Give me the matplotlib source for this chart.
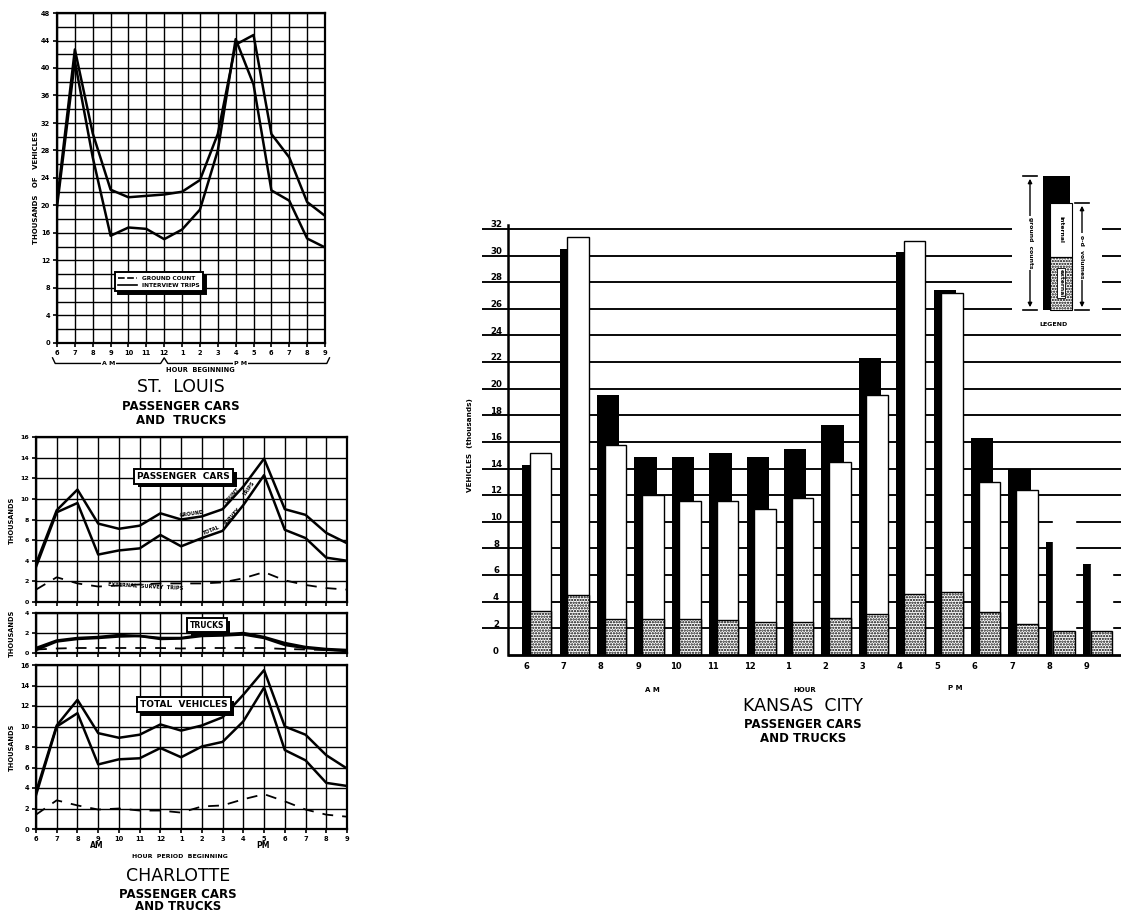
import matplotlib
matplotlib.use('Agg')
import matplotlib.pyplot as plt
import numpy as np
from matplotlib.patches import Rectangle
from matplotlib.lines import Line2D
import matplotlib.transforms as mtransforms
import matplotlib.patheffects as pe

W, H = 1121, 915
plt.rcParams['font.family'] = ['DejaVu Sans']
plt.rcParams['hatch.linewidth'] = 1.1

# ---------------- data ----------------
hour_labels = ['6', '7', '8', '9', '10', '11', '12', '1', '2', '3', '4', '5', '6', '7', '8', '9']
hours = np.arange(len(hour_labels))

# St. Louis (thousands of vehicles)
stl_ground = [20.5, 42.7, 30.5, 22.3, 21.2, 21.4, 21.6, 22.0, 23.7, 30.4, 43.4, 44.8, 30.4, 27.0, 20.5, 18.5]
stl_interview = [19.8, 41.0, 27.0, 15.6, 16.8, 16.6, 15.1, 16.5, 19.4, 28.0, 44.2, 37.6, 22.2, 20.7, 15.2, 13.9]

# Charlotte (thousands)
cars_ground = [3.7, 8.9, 10.9, 7.6, 7.1, 7.4, 8.6, 8.0, 8.3, 9.0, 11.2, 13.9, 9.0, 8.45, 6.7, 5.7]
cars_survey = [3.4, 8.7, 9.6, 4.6, 5.0, 5.2, 6.5, 5.4, 6.2, 6.9, 9.4, 12.3, 7.0, 6.2, 4.3, 4.0]
cars_external = [1.2, 2.4, 1.8, 1.5, 1.6, 1.7, 1.8, 1.8, 1.8, 1.9, 2.3, 2.9, 2.1, 1.65, 1.35, 1.2]

trucks_ground = [0.5, 1.25, 1.5, 1.6, 1.8, 1.7, 1.5, 1.5, 1.8, 1.85, 2.0, 1.6, 1.0, 0.6, 0.4, 0.3]
trucks_survey = [0.3, 1.15, 1.4, 1.5, 1.65, 1.7, 1.4, 1.45, 1.7, 1.75, 1.85, 1.5, 0.8, 0.5, 0.33, 0.2]
trucks_external = [0.35, 0.45, 0.5, 0.5, 0.5, 0.5, 0.5, 0.45, 0.5, 0.5, 0.5, 0.5, 0.4, 0.35, 0.3, 0.25]

total_ground = [3.6, 10.1, 12.6, 9.35, 8.9, 9.2, 10.2, 9.6, 10.1, 10.9, 13.1, 15.5, 10.0, 9.2, 7.2, 5.9]
total_survey = [3.3, 10.0, 11.3, 6.3, 6.8, 6.9, 7.9, 7.0, 8.05, 8.5, 10.5, 13.8, 7.7, 6.7, 4.5, 4.2]
total_external = [1.4, 2.8, 2.3, 1.9, 2.0, 1.8, 1.8, 1.6, 2.2, 2.3, 2.9, 3.4, 2.7, 1.9, 1.4, 1.2]

# Kansas City (thousands of vehicles)
kc_ground = [14.3, 30.5, 19.5, 14.9, 14.9, 15.2, 14.9, 15.5, 17.3, 22.3, 30.3, 27.4, 16.3, 14.0, 8.5, 6.8]
kc_od = [15.2, 31.4, 15.8, 12.0, 11.6, 11.6, 11.0, 11.8, 14.5, 19.5, 31.1, 27.2, 13.0, 12.4, 11.8, 6.8]
kc_external = [3.3, 4.5, 2.7, 2.7, 2.7, 2.6, 2.5, 2.5, 2.8, 3.1, 4.6, 4.7, 3.2, 2.35, 1.8, 1.8]
kc_od_outlined = [True] * 14 + [False] * 2

# ---------------- helpers ----------------
fig = plt.figure(figsize=(W / 100, H / 100), dpi=100)


def px_axes(x0, y0, x1, y1, **kw):
    return fig.add_axes([x0 / W, 1 - y1 / H, (x1 - x0) / W, (y1 - y0) / H], **kw)


def ftext(xp, yp, s, **kw):
    return fig.text(xp / W, 1 - yp / H, s, **kw)


def grid_axes(ax, ymax, ystep, lstep, show_x=True, lsize=5):
    ax.set_xlim(0, 15)
    ax.set_ylim(0, ymax)
    ax.set_xticks(hours)
    ax.set_yticks(np.arange(0, ymax + 0.01, lstep))
    ax.set_yticks(np.arange(0, ymax + 0.01, ystep), minor=True)
    ax.grid(True, which='both', color='black', lw=1.0, zorder=1)
    ax.set_axisbelow(True)
    for s in ax.spines.values():
        s.set_linewidth(1.6)
    ax.tick_params(which='both', direction='out', length=3, width=1.2, labelsize=lsize, pad=2)
    ax.tick_params(which='minor', length=0)
    if show_x:
        ax.set_xticklabels(hour_labels, fontweight='bold')
    else:
        ax.set_xticklabels([])
    for lb in ax.get_yticklabels():
        lb.set_fontweight('bold')


def boxed(ax, x, y, s, size=6.5):
    t = ax.text(x, y, s, transform=ax.transAxes, fontsize=size, fontweight='bold', ha='center', va='center',
                bbox=dict(boxstyle='square,pad=0.35', fc='white', ec='black', lw=1.4), zorder=6)
    t.get_bbox_patch().set_path_effects([
        pe.SimplePatchShadow(offset=(2.5, -2.5), shadow_rgbFace='black', alpha=1.0), pe.Normal()])


# ---------------- St. Louis ----------------
ax1 = px_axes(57, 13, 325, 343)
grid_axes(ax1, 48, 2, 4, lsize=4.8)
ax1.plot(hours, stl_ground, color='black', lw=1.8, zorder=3)
ax1.plot(hours, stl_interview, color='black', lw=1.8, zorder=3)
handles = [Line2D([], [], color='black', lw=1.2, ls=(0, (4, 1.5))),
           Line2D([], [], color='black', lw=1.2)]
leg = ax1.legend(handles, ['GROUND COUNT', 'INTERVIEW TRIPS'], loc='lower left',
                 bbox_to_anchor=(0.205, 0.148), prop=dict(size=4.2, weight='bold'),
                 frameon=True, fancybox=False, handlelength=3.2, borderpad=0.6,
                 labelspacing=0.35, shadow=dict(color='black', alpha=1.0))
leg.get_frame().set_edgecolor('black')
leg.get_frame().set_linewidth(1.4)
leg.set_zorder(6)

# brace under x-axis
bt = mtransforms.blended_transform_factory(ax1.transData, ax1.transAxes)
ax1.plot([-0.25, -0.1, 5.8, 6.0, 6.2, 15.1, 15.25], [-0.045, -0.062, -0.062, -0.045, -0.062, -0.062, -0.045],
         color='black', lw=1.0, transform=bt, clip_on=False)
ax1.text(2.9, -0.062, 'A M', transform=bt, fontsize=4.5, fontweight='bold', ha='center', va='center',
         bbox=dict(fc='white', ec='none', pad=0.6))
ax1.text(10.25, -0.062, 'P M', transform=bt, fontsize=4.5, fontweight='bold', ha='center', va='center',
         bbox=dict(fc='white', ec='none', pad=0.6))
ftext(200, 370, 'HOUR  BEGINNING', fontsize=4.8, fontweight='bold', ha='center', va='center')
ftext(36, 188, 'THOUSANDS   OF   VEHICLES', fontsize=5, fontweight='bold', rotation=90, ha='center', va='center')
ftext(181, 387, 'ST.  LOUIS', fontsize=12.5, ha='center', va='center')
ftext(181, 407, 'PASSENGER CARS', fontsize=8.5, fontweight='bold', ha='center', va='center')
ftext(181, 420, 'AND  TRUCKS', fontsize=8.5, fontweight='bold', ha='center', va='center')

# ---------------- Charlotte ----------------
axc1 = px_axes(36, 437, 347, 602)
grid_axes(axc1, 16, 2, 2, show_x=False, lsize=4.5)
axc1.plot(hours, cars_ground, color='black', lw=1.8, zorder=3)
axc1.plot(hours, cars_survey, color='black', lw=1.8, zorder=3)
axc1.plot(hours, cars_external, color='black', lw=1.3, ls=(0, (6, 5)), zorder=3)
boxed(axc1, 0.475, 0.762, 'PASSENGER  CARS')
axc1.text(7.5, 8.55, 'GROUND', fontsize=3.6, fontweight='bold', rotation=8, ha='center', va='center', zorder=4)
axc1.text(9.45, 10.35, 'COUNT', fontsize=3.6, fontweight='bold', rotation=48, ha='center', va='center', zorder=4)
axc1.text(8.45, 6.95, 'TOTAL', fontsize=3.6, fontweight='bold', rotation=22, ha='center', va='center', zorder=4)
axc1.text(9.45, 8.3, 'SURVEY', fontsize=3.6, fontweight='bold', rotation=48, ha='center', va='center', zorder=4)
axc1.text(10.3, 11.0, 'TRIPS', fontsize=3.6, fontweight='bold', rotation=55, ha='center', va='center', zorder=4)
axc1.text(5.3, 1.55, 'EXTERNAL  SURVEY  TRIPS', fontsize=3.6, fontweight='bold', rotation=-3,
          ha='center', va='center', zorder=4)

axc2 = px_axes(36, 613, 347, 653)
grid_axes(axc2, 4, 2, 2, show_x=False, lsize=4.5)
axc2.plot(hours, trucks_ground, color='black', lw=1.8, zorder=3)
axc2.plot(hours, trucks_survey, color='black', lw=1.8, zorder=3)
axc2.plot(hours, trucks_external, color='black', lw=1.3, ls=(0, (6, 5)), zorder=3)
boxed(axc2, 0.55, 0.7, 'TRUCKS', size=5.5)

axc3 = px_axes(36, 665, 347, 829)
grid_axes(axc3, 16, 2, 2, show_x=True, lsize=4.8)
axc3.plot(hours, total_ground, color='black', lw=1.8, zorder=3)
axc3.plot(hours, total_survey, color='black', lw=1.8, zorder=3)
axc3.plot(hours, total_external, color='black', lw=1.3, ls=(0, (6, 5)), zorder=3)
boxed(axc3, 0.475, 0.758, 'TOTAL  VEHICLES')

for yc in (520, 633, 747):
    ftext(12, yc, 'THOUSANDS', fontsize=4.8, fontweight='bold', rotation=90, ha='center', va='center')
ftext(97, 846, 'AM', fontsize=5.5, fontweight='bold', ha='center', va='center')
ftext(263, 846, 'PM', fontsize=5.5, fontweight='bold', ha='center', va='center')
ftext(180, 857, 'HOUR  PERIOD  BEGINNING', fontsize=4.5, fontweight='bold', ha='center', va='center')
ftext(178, 876, 'CHARLOTTE', fontsize=12.5, ha='center', va='center')
ftext(178, 894, 'PASSENGER CARS', fontsize=8.5, fontweight='bold', ha='center', va='center')
ftext(178, 907, 'AND TRUCKS', fontsize=8.5, fontweight='bold', ha='center', va='center')

# ---------------- Kansas City ----------------
axk = px_axes(482, 225, 1121, 655)
axk.set_xlim(-1.176, 15.91)
axk.set_ylim(0, 32.3)
axk.axis('off')
yaxis_x = -0.48
for v in range(2, 33, 2):
    axk.plot([-1.176, 15.91], [v, v], color='black', lw=1.35, zorder=1, solid_capstyle='butt')
    axk.text(-0.80, v + 0.32, str(v), fontsize=6.2, fontweight='bold', ha='center', va='center', zorder=1)
axk.text(-0.80, 0.3, '0', fontsize=6.2, fontweight='bold', ha='center', va='center')
axk.plot([yaxis_x, 15.91], [0, 0], color='black', lw=2.0, zorder=6, clip_on=False, solid_capstyle='butt')
axk.plot([yaxis_x, yaxis_x], [0, 32.3], color='black', lw=1.8, zorder=6, clip_on=False)

axk.bar(hours - 0.1, kc_ground, width=0.6, align='edge', color='black', lw=0, zorder=2)
od_edges = ['black' if o else 'white' for o in kc_od_outlined]
axk.bar(hours + 0.1, kc_od, width=0.58, align='edge', color='white', edgecolor=od_edges, lw=1.0, zorder=3)
axk.bar(hours + 0.1, kc_external, width=0.58, align='edge', color='white', edgecolor='black',
        hatch='......', lw=1.0, zorder=4)
for i, lab in enumerate(hour_labels):
    axk.text(hours[i], -0.9, lab, fontsize=6, fontweight='bold', ha='center', va='center')

ftext(652, 690, 'A M', fontsize=5, fontweight='bold', ha='center', va='center')
ftext(805, 690, 'HOUR', fontsize=5, fontweight='bold', ha='center', va='center')
ftext(955, 688, 'P M', fontsize=5, fontweight='bold', ha='center', va='center')
ftext(470, 445, 'VEHICLES  (thousands)', fontsize=5.2, fontweight='bold', rotation=90, ha='center', va='center')
ftext(803, 706, 'KANSAS  CITY', fontsize=12.5, ha='center', va='center')
ftext(803, 724, 'PASSENGER CARS', fontsize=8.5, fontweight='bold', ha='center', va='center')
ftext(803, 739, 'AND TRUCKS', fontsize=8.5, fontweight='bold', ha='center', va='center')

# ---------------- Kansas City legend ----------------
axl = px_axes(1012, 170, 1102, 331)
axl.set_xlim(1012, 1102)
axl.set_ylim(331, 170)
axl.set_xticks([]); axl.set_yticks([])
for s in axl.spines.values():
    s.set_visible(False)
axl.set_facecolor('white')
axl.add_patch(Rectangle((1043, 176), 27, 134, fc='black', ec='none'))
axl.add_patch(Rectangle((1050, 203), 22, 54, fc='white', ec='black', lw=0.8))
axl.add_patch(Rectangle((1050, 257), 22, 53, fc='white', ec='black', hatch='......', lw=0.8))
axl.text(1061, 230, 'internal', rotation=-90, fontsize=4.3, fontweight='bold', ha='center', va='center')
axl.text(1061, 283, 'external', rotation=-90, fontsize=4.3, fontweight='bold', ha='center', va='center',
         bbox=dict(fc='white', ec='black', lw=0.6, pad=0.8))
for xa, y0, y1, lab in ((1030, 176, 310, 'ground  counts'), (1082, 203, 310, 'o-d  volumes')):
    axl.annotate('', xy=(xa, y0), xytext=(xa, (y0 + y1) / 2),
                 arrowprops=dict(arrowstyle='-|>', color='black', lw=1.0, mutation_scale=6))
    axl.annotate('', xy=(xa, y1), xytext=(xa, (y0 + y1) / 2),
                 arrowprops=dict(arrowstyle='-|>', color='black', lw=1.0, mutation_scale=6))
    axl.plot([xa - 7, xa + 7], [y0, y0], color='black', lw=1.2)
    axl.plot([xa - 7, xa + 7], [y1, y1], color='black', lw=1.2)
    axl.text(xa, (y0 + y1) / 2, lab, rotation=-90, fontsize=4.3, fontweight='bold', ha='center',
             va='center', bbox=dict(fc='white', ec='none', pad=1.0))
axl.text(1054, 324, 'LEGEND', fontsize=4.5, fontweight='bold', ha='center', va='center')

fig.savefig('out.png', dpi=100, facecolor='white')
